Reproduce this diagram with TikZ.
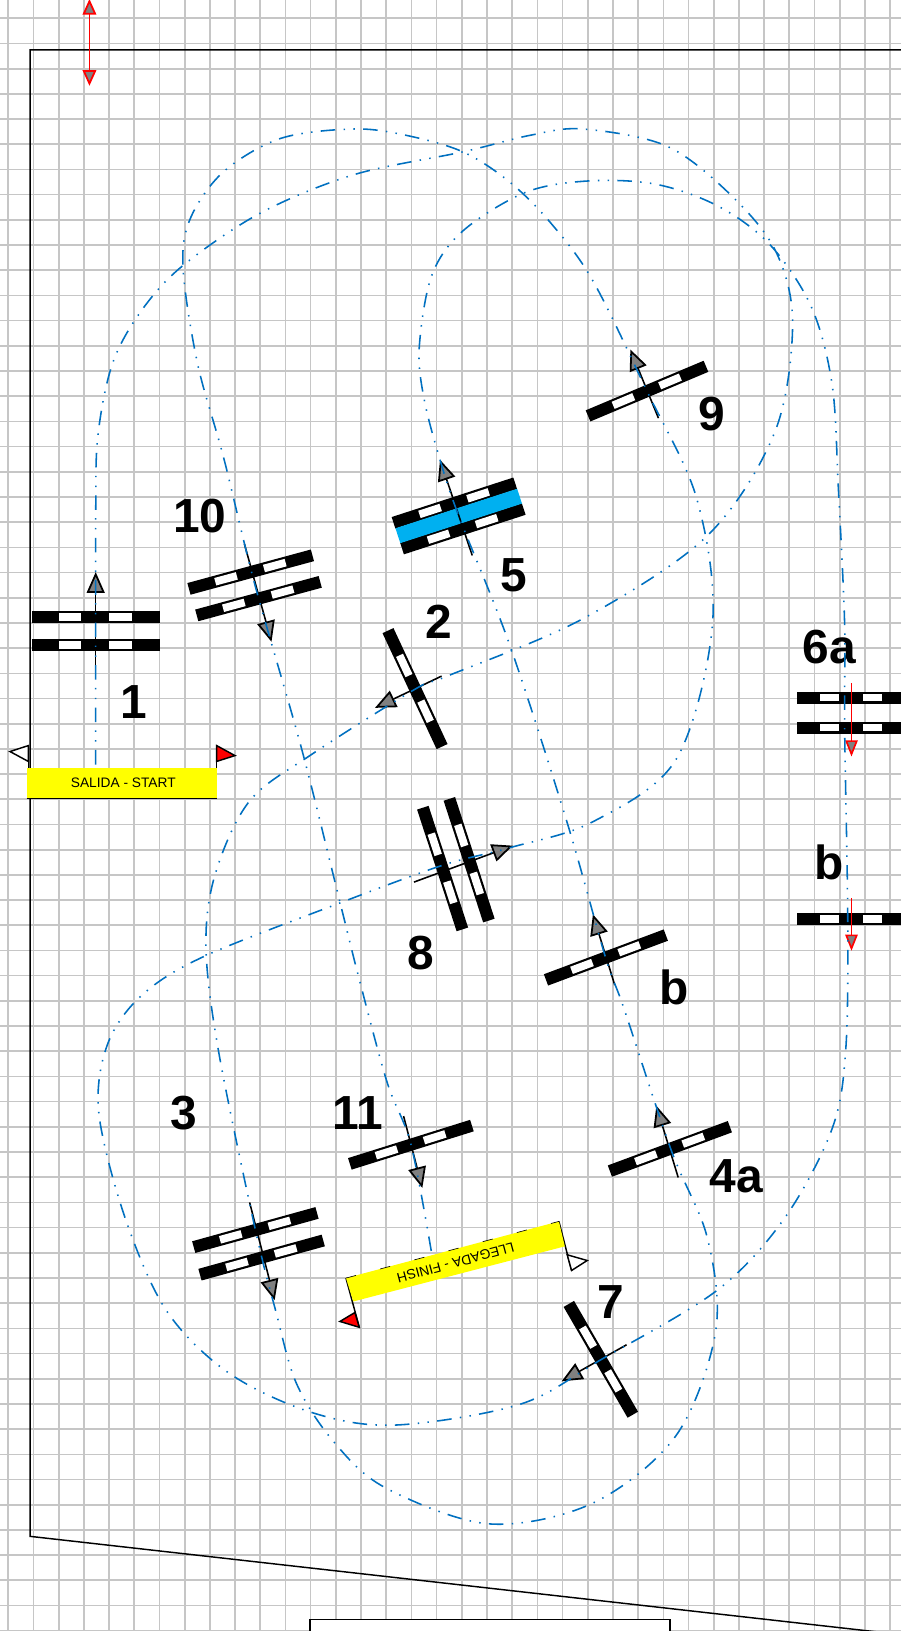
\documentclass[tikz,border=0pt]{standalone}
\usepackage{fontspec}
\setmainfont{Liberation Sans}
\usetikzlibrary{arrows.meta}
\definecolor{gridgray}{HTML}{C6C6C6}
\definecolor{courseblue}{HTML}{0070C0}
\definecolor{waterblue}{HTML}{00B0F0}
\definecolor{lineyellow}{HTML}{FFFF00}
\definecolor{headgray}{HTML}{808080}
\tikzset{
    gatebar/.pic={
        \fill[black] (-61.5,-5.8) rectangle (61.5,5.8);
        \fill[white] (-35.3,-3.7) rectangle (-13.8,3.7);
        \fill[white] (13.2,-3.7) rectangle (34.8,3.7);
    },
    gatearrow/.style={-{Triangle[length=10pt,width=8.6pt,fill=headgray,line width=0.85pt]}, line width=0.75pt, black},
    redarrow/.style={-{Triangle[length=7.8pt,width=6pt,fill=headgray,line width=0.8pt]}, line width=0.7pt, red},
    course/.style={courseblue, line width=0.75pt, dash pattern=on 7pt off 4pt on 0.7pt off 4pt on 0.7pt off 4pt},
    gatenum/.style={font=\bfseries\fontsize{23}{23}\selectfont, inner sep=0pt},
    linetext/.style={font=\fontsize{6.6}{7}\selectfont, inner sep=0pt}
}

\begin{document}
\begin{tikzpicture}[x=0.5pt, y=-0.5pt]
    \useasboundingbox (0,0) rectangle (866,1568);
    \clip (0,0) rectangle (866,1568);
    \fill[white] (0,0) rectangle (866,1568);

    % Grid
    \foreach \i in {0,...,35} {
        \draw[gridgray, line width=0.8pt] (8+24.22*\i,0) -- (8+24.22*\i,1568);
    }
    \foreach \i in {0,...,64} {
        \draw[gridgray, line width=0.8pt] (0,17.6+24.22*\i) -- (866,17.6+24.22*\i);
    }

    % Arena
    \draw[black, line width=0.7pt] (880,48) -- (29,48) -- (29,1477) -- (880,1573);
    \draw[black, fill=white, line width=0.8pt] (298,1580) rectangle (644,1557);
    \draw[red, line width=0.7pt, {Triangle[length=7.5pt,width=6.5pt,fill=headgray,line width=0.85pt]}-{Triangle[length=7.5pt,width=6.5pt,fill=headgray,line width=0.85pt]}] (86,-1) -- (86,82.5);

    % Gate 1
    \pic at (92,593) {gatebar};
    \pic at (92,620) {gatebar};
    \draw[gatearrow] (92,649) -- (92,550);
    \node[gatenum] (n1) at (129,675) {1};

    % Gate 2
    \pic[rotate=-65] at (399,662) {gatebar};
    \draw[gatearrow] (424.5,650) -- (360.5,680.5);
    \node[gatenum] (n2) at (422,598) {2};

    % Gate 3
    \pic[rotate=15.5] at (245.5,1182.5) {gatebar};
    \pic[rotate=15.5] at (251.5,1209) {gatebar};
    \draw[gatearrow] (240,1156) -- (264,1250);
    \node[gatenum] (n3) at (177,1070) {3};

    % Gate 4a
    \pic[rotate=20.3] at (644,1104.5) {gatebar};
    \draw[gatearrow] (652,1132) -- (631,1063);
    \node[gatenum] (n4a) at (708,1131) {4a};

    % Gate 4b
    \pic[rotate=20.5] at (582.5,920.5) {gatebar};
    \draw[gatearrow] (591,947) -- (570,879);
    \node[gatenum] (n4b) at (648,949) {b};

    % Gate 5
    \pic[rotate=18] at (436.8,483.6) {gatebar};
    \pic[rotate=18] at (445,508.4) {gatebar};
    \fill[waterblue, rotate around={18:(441,496)}] (379.5,488.5) rectangle (502.5,503.5);
    \draw[gatearrow] (454,534) -- (423,442);
    \node[gatenum] (n5) at (494,553) {5};

    % Gate 6a
    \pic[xscale=0.85] at (818.5,670.6) {gatebar};
    \pic[xscale=0.85] at (818.5,699.5) {gatebar};
    \draw[redarrow] (818.6,656.8) -- (818.6,727.3);
    \node[gatenum] (n6a) at (797,622) {6a};

    % Gate 6b
    \pic[xscale=0.85] at (818.5,883.3) {gatebar};
    \draw[redarrow] (818.6,863.5) -- (818.6,914);
    \node[gatenum] (n6b) at (797,829) {b};

    % Gate 7
    \pic[rotate=-60] at (577.6,1306.8) {gatebar};
    \draw[gatearrow] (602.4,1292.8) -- (539.9,1328);
    \node[gatenum] (n7) at (587,1252) {7};

    % Gate 8
    \pic[rotate=-72] at (425.5,835) {gatebar};
    \pic[rotate=-72] at (451,826.5) {gatebar};
    \draw[gatearrow] (398,848) -- (493,813);
    \node[gatenum] (n8) at (405,916) {8};

    % Gate 9
    \pic[rotate=22.8] at (622,376) {gatebar};
    \draw[gatearrow] (633,402) -- (606,336);
    \node[gatenum] (n9) at (684,398) {9};

    % Gate 10
    \pic[rotate=15.2] at (241,550) {gatebar};
    \pic[rotate=15.2] at (248.5,575.5) {gatebar};
    \draw[gatearrow] (235,523) -- (261,617);
    \node[gatenum] (n10) at (192,496) {10};

    % Gate 11
    \pic[rotate=17.4] at (395,1100.5) {gatebar};
    \draw[gatearrow] (388,1073) -- (406,1142);
    \node[gatenum] (n11) at (344,1070) {11};

    % Course
    \draw[course] plot[smooth, tension=0.55] coordinates {
        (92,735) (92,650) (92,500) (94,420) (108,350) (135,300) (175,256) (250,205) (340,168) (445,146)
        (510,130) (560,124) (640,140) (700,185) (745,240) (762,310) (745,415) (680,515)
        (560,595) (430,650) (400,662) (300,725) (240,770) (207,840) (198,910)
        (210,1010) (245,1180) (265,1260) (285,1330) (320,1385) (370,1430) (470,1465) (570,1445)
        (650,1380) (688,1280) (680,1190) (645,1105) (600,970) (582,920) (545,790)
        (490,620) (441,496) (423,442) (408,385) (403,335) (415,265) (445,222) (505,185) (565,174)
        (630,177) (690,198) (740,235) (780,295) (800,370) (806,470) (812,600) (812,700) (815,885) (813,1010)
        (800,1085) (755,1170) (690,1240) (578,1307) (500,1350) (380,1370) (300,1358)
        (220,1320) (160,1260) (120,1170) (95,1070) (103,1005) (135,958) (195,920) (327,868) (425,832) (490,815)
        (570,790) (650,730) (685,600) (670,480) (622,376) (570,270) (530,215) (490,175) (445,146)
        (390,130) (340,124) (270,133) (215,165) (183,210) (176,258) (190,350) (215,440) (245,562) (290,720)
        (327,868) (345,940) (372,1040) (395,1100) (415,1205)
    };

    % Start line
    \draw[black, line width=0.7pt] (27.2,716.8) -- (27.2,738.2);
    \draw[black, line width=0.7pt] (208.3,716.8) -- (208.3,767.6);
    \draw[black, fill=white, line width=0.7pt] (27.2,716.8) -- (9.6,722.5) -- (27.2,732) -- cycle;
    \draw[black, fill=red, line width=0.7pt] (208.3,716.8) -- (225.9,726.4) -- (208.3,732) -- cycle;
    \fill[lineyellow] (25.6,738.2) rectangle (208.3,767.6);
    \draw[black, line width=0.4pt] (25.6,767.6) -- (208.3,767.6);
    \node[linetext] (startline) at (118.5,752.5) {SALIDA - START};

    % Finish line
    \draw[black, line width=0.7pt] (332.6,1228.7) -- (345.4,1276);
    \draw[black, line width=0.7pt] (537.3,1174.2) -- (549.5,1221.4);
    \draw[black, fill=red, line width=0.7pt] (345.4,1276) -- (326.8,1270.4) -- (341.2,1261.8) -- cycle;
    \draw[black, fill=white, line width=0.7pt] (549.5,1221.4) -- (564.5,1211.8) -- (545.3,1206.3) -- cycle;
    \fill[lineyellow] (332.6,1228.7) -- (537.3,1174.2) -- (543,1198.2) -- (339.6,1251.2) -- cycle;
    \draw[black, line width=0.3pt, dash pattern=on 5pt off 12pt] (332.6,1228.7) -- (537.3,1174.2);
    \node[linetext, rotate=195] (finishline) at (438,1214) {LLEGADA - FINISH};
\end{tikzpicture}
\end{document}
